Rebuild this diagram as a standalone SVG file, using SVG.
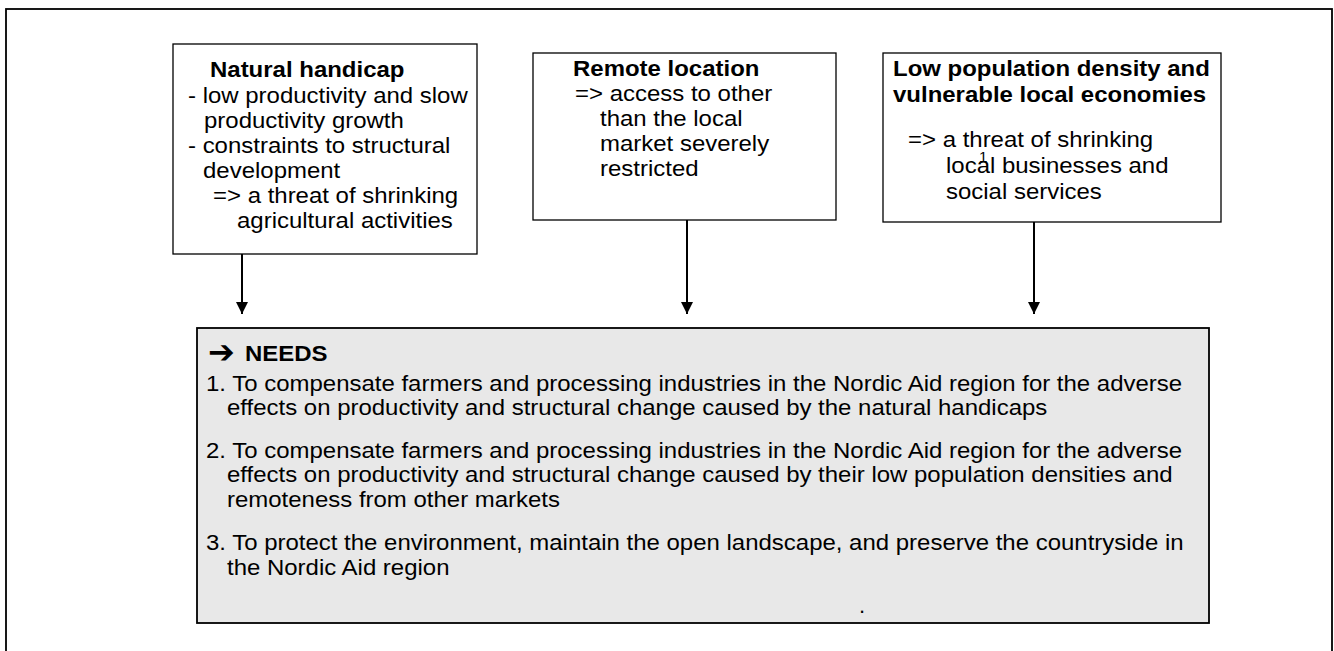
<svg xmlns="http://www.w3.org/2000/svg" width="1334" height="651" viewBox="0 0 1334 651">
<defs>
<style>
.box{fill:#fff;stroke:#000;stroke-width:1.3}
.needs{fill:#e8e8e8;stroke:#000;stroke-width:1.8}
.t{font-family:"Liberation Sans",Arial,sans-serif;font-size:22px;fill:#000}
.b{font-weight:bold}
.con{stroke:#000;stroke-width:2;fill:none}
</style>
<marker id="ah" markerWidth="12" markerHeight="13" refX="12" refY="6" orient="auto" markerUnits="userSpaceOnUse">
<path d="M0,0 L12,6 L0,12 z" fill="#000"/>
</marker>
</defs>
<rect width="1334" height="651" fill="#fff"/>
<rect x="6" y="9" width="1326" height="660" fill="none" stroke="#000" stroke-width="1.8"/>

<g id="natural-handicap">
<rect class="box" x="173" y="44" width="304" height="210"/>
<text class="t b" transform="translate(210,77) scale(1.09,1)">Natural handicap</text>
<text class="t" transform="translate(188,103) scale(1.09,1)">- low productivity and slow</text>
<text class="t" transform="translate(204,128) scale(1.09,1)">productivity growth</text>
<text class="t" transform="translate(188,153) scale(1.09,1)">- constraints to structural</text>
<text class="t" transform="translate(203,178) scale(1.09,1)">development</text>
<text class="t" transform="translate(213,203) scale(1.09,1)">=&gt; a threat of shrinking</text>
<text class="t" transform="translate(237,228) scale(1.09,1)">agricultural activities</text>
</g>

<g id="remote-location">
<rect class="box" x="533" y="53" width="303" height="167"/>
<text class="t b" transform="translate(573,76) scale(1.09,1)">Remote location</text>
<text class="t" transform="translate(575,101) scale(1.09,1)">=&gt; access to other</text>
<text class="t" transform="translate(600,126) scale(1.09,1)">than the local</text>
<text class="t" transform="translate(600,151) scale(1.09,1)">market severely</text>
<text class="t" transform="translate(600,176) scale(1.09,1)">restricted</text>
</g>

<g id="low-population">
<rect class="box" x="883" y="53" width="338" height="169"/>
<text class="t b" transform="translate(893,76) scale(1.09,1)">Low population density and</text>
<text class="t b" transform="translate(893,102) scale(1.09,1)">vulnerable local economies</text>
<text class="t" transform="translate(908,147) scale(1.09,1)">=&gt; a threat of shrinking</text>
<text class="t" transform="translate(946,173) scale(1.09,1)">local businesses and</text>
<text class="t" transform="translate(946,199) scale(1.09,1)">social services</text>
<text class="t" style="font-size:15px" x="979" y="162">1</text>
</g>

<g id="connectors">
<line class="con" x1="242" y1="254" x2="242" y2="314" marker-end="url(#ah)"/>
<line class="con" x1="687" y1="220" x2="687" y2="314" marker-end="url(#ah)"/>
<line class="con" x1="1034" y1="222" x2="1034" y2="314" marker-end="url(#ah)"/>
</g>

<g id="needs">
<rect class="needs" x="197" y="328" width="1012" height="295"/>
<text class="t b" style="font-family:'DejaVu Sans',sans-serif;font-size:32px" x="208" y="363">➔</text>
<text class="t b" transform="translate(245,361) scale(1.09,1)">NEEDS</text>
<text class="t" transform="translate(206,391) scale(1.09,1)">1. To compensate farmers and processing industries in the Nordic Aid region for the adverse</text>
<text class="t" transform="translate(227,415) scale(1.09,1)">effects on productivity and structural change caused by the natural handicaps</text>
<text class="t" transform="translate(206,458) scale(1.09,1)">2. To compensate farmers and processing industries in the Nordic Aid region for the adverse</text>
<text class="t" transform="translate(227,482) scale(1.09,1)">effects on productivity and structural change caused by their low population densities and</text>
<text class="t" transform="translate(227,507) scale(1.09,1)">remoteness from other markets</text>
<text class="t" transform="translate(206,550) scale(1.09,1)">3. To protect the environment, maintain the open landscape, and preserve the countryside in</text>
<text class="t" transform="translate(227,575) scale(1.09,1)">the Nordic Aid region</text>
<text class="t" x="859" y="613">.</text>
</g>
</svg>
